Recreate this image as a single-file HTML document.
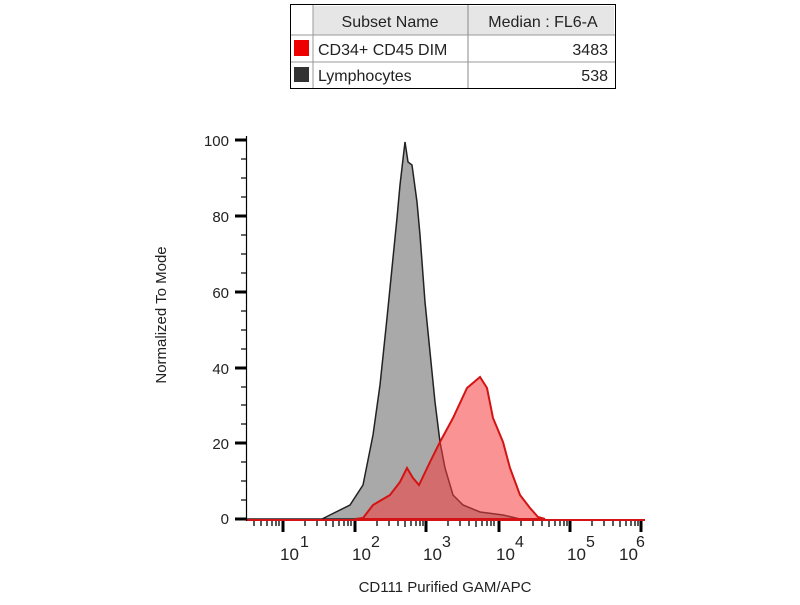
<!DOCTYPE html>
<html><head><style>
body{margin:0;background:#fff;font-family:"Liberation Sans",Arial,sans-serif;}
</style></head><body>
<svg width="800" height="600" xmlns="http://www.w3.org/2000/svg" font-family="Liberation Sans, Arial, sans-serif">
<!-- table -->
<rect x="290.5" y="4.5" width="325" height="84" fill="#fff" stroke="#000"/>
<rect x="313" y="6" width="301" height="29" fill="#e6e6e6"/>
<line x1="313" y1="5" x2="313" y2="88" stroke="#999"/>
<line x1="468" y1="5" x2="468" y2="88" stroke="#888"/>
<line x1="291" y1="35" x2="615" y2="35" stroke="#999"/>
<line x1="291" y1="62" x2="615" y2="62" stroke="#999"/>
<text x="390" y="27" font-size="16" text-anchor="middle" fill="#222">Subset Name</text>
<text x="543" y="27" font-size="16" text-anchor="middle" fill="#222">Median : FL6-A</text>
<rect x="294" y="40" width="15" height="16" fill="#e00"/>
<rect x="294" y="67" width="15" height="15" fill="#333"/>
<text x="318" y="55" font-size="16" fill="#222">CD34+ CD45 DIM</text>
<text x="318" y="81" font-size="16" fill="#222">Lymphocytes</text>
<text x="608" y="55" font-size="16" text-anchor="end" fill="#222">3483</text>
<text x="608" y="81" font-size="16" text-anchor="end" fill="#222">538</text>
<!-- series -->
<path d="M247,519 L322,519 L330,515 L350,505 L363,485 L373,435 L380,385 L387,318 L392,268 L397,218 L400,185 L405,142 L408,162 L412,165 L417,202 L420,235 L425,302 L430,352 L435,402 L440,442 L445,468 L453,495 L463,505 L480,512 L503,515 L520,519 Z" fill="#a9a9a9" stroke="#222" stroke-width="1.5"/>
<path d="M355,519 L363,518 L373,505 L390,495 L400,482 L407,468 L413,478 L419,485 L430,462 L440,442 L453,418 L467,388 L480,377 L487,388 L493,418 L503,442 L510,468 L520,495 L530,508 L538,517 L545,519 Z" fill="rgba(245,60,60,0.55)" stroke="#d41414" stroke-width="2"/>
<line x1="247" y1="520" x2="645" y2="520" stroke="#d41414" stroke-width="2"/>
<!-- y axis -->
<line x1="246.5" y1="136" x2="246.5" y2="521" stroke="#000" stroke-width="1.2"/>
<g stroke="#000">
<line x1="235" y1="140" x2="246" y2="140" stroke-width="3"/>
<line x1="235" y1="216" x2="246" y2="216" stroke-width="3"/>
<line x1="235" y1="292" x2="246" y2="292" stroke-width="3"/>
<line x1="235" y1="368" x2="246" y2="368" stroke-width="3"/>
<line x1="235" y1="443" x2="246" y2="443" stroke-width="3"/>
<line x1="235" y1="519" x2="246" y2="519" stroke-width="3"/>
<g stroke-width="1.2">
<line x1="241" y1="159" x2="246" y2="159"/><line x1="241" y1="178" x2="246" y2="178"/><line x1="241" y1="197" x2="246" y2="197"/>
<line x1="241" y1="235" x2="246" y2="235"/><line x1="241" y1="254" x2="246" y2="254"/><line x1="241" y1="273" x2="246" y2="273"/>
<line x1="241" y1="311" x2="246" y2="311"/><line x1="241" y1="330" x2="246" y2="330"/><line x1="241" y1="349" x2="246" y2="349"/>
<line x1="241" y1="387" x2="246" y2="387"/><line x1="241" y1="405" x2="246" y2="405"/><line x1="241" y1="424" x2="246" y2="424"/>
<line x1="241" y1="462" x2="246" y2="462"/><line x1="241" y1="481" x2="246" y2="481"/><line x1="241" y1="500" x2="246" y2="500"/>
</g></g>
<g font-size="15" text-anchor="end" fill="#222">
<text x="229" y="146">100</text><text x="229" y="222">80</text><text x="229" y="298">60</text>
<text x="229" y="374">40</text><text x="229" y="449">20</text><text x="229" y="524">0</text>
</g>
<text transform="translate(166,315) rotate(-90)" font-size="15" text-anchor="middle" fill="#222">Normalized To Mode</text>
<!-- x ticks -->
<path stroke="#000" stroke-width="3" d="M283,521V532M355,521V532M426,521V532M499,521V532M570,521V532M641,521V532"/>
<path stroke="#000" stroke-width="1.3" d="M254,521V526M261,521V526M267,521V526M272,521V526M276,521V526M279,521V526
M305,521V526M317,521V526M326,521V526M333,521V527M339,521V526M344,521V526M348,521V526M351,521V526
M377,521V526M389,521V526M398,521V526M405,521V527M411,521V526M416,521V526M420,521V526M423,521V526
M448,521V526M460,521V526M469,521V526M476,521V527M482,521V526M487,521V526M491,521V526M494,521V526
M521,521V526M533,521V526M542,521V526M549,521V527M555,521V526M560,521V526M564,521V526M567,521V526
M592,521V526M604,521V526M613,521V526M620,521V527M626,521V526M631,521V526M635,521V526M638,521V526"/>
<g font-size="17" fill="#222">
<text x="280" y="560">10</text><text x="300" y="547" font-size="16">1</text>
<text x="352" y="560">10</text><text x="371" y="547" font-size="16">2</text>
<text x="423" y="560">10</text><text x="442" y="547" font-size="16">3</text>
<text x="496" y="560">10</text><text x="515" y="547" font-size="16">4</text>
<text x="567" y="560">10</text><text x="586" y="547" font-size="16">5</text>
<text x="619" y="560">10</text><text x="636" y="547" font-size="16">6</text>
</g>
<text x="445" y="592" font-size="15" text-anchor="middle" fill="#222">CD111 Purified GAM/APC</text>
</svg>
</body></html>
